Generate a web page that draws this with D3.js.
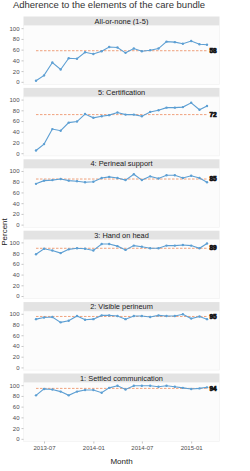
<!DOCTYPE html>
<html>
<head>
<meta charset="utf-8">
<script src="https://cdn.jsdelivr.net/npm/d3@7"></script>
<style>
  body { margin: 0; background: #fff; }
  svg { display: block; font-family: "Liberation Sans", Arial, sans-serif; }
  .tick text { fill: #4d4d4d; font-size: 6px; }
  .tick line { stroke: #8c8c8c; }
  .domain { display: none; }
</style>
</head>
<body>
<div id="chart"></div>
<script>
var width = 250, height = 471;

// months 2013-06 .. 2015-03
var months = ["2013-06","2013-07","2013-08","2013-09","2013-10","2013-11","2013-12",
  "2014-01","2014-02","2014-03","2014-04","2014-05","2014-06","2014-07","2014-08",
  "2014-09","2014-10","2014-11","2014-12","2015-01","2015-02","2015-03"];

var panels = ["All-or-none (1-5)", "5: Certification", "4: Perineal support",
  "3: Hand on head", "2: Visible perineum", "1: Settled communication"];

var allOrNone = [2, 12, 36, 23, 44, 43, 55, 52, 57, 65, 64, 54, 62, 57, 59, 62, 75, 74, 71, 76, 70, 69];
var certification = [5, 17, 45, 42, 57, 59, 73, 66, 69, 71, 76, 72, 72, 69, 77, 80, 85, 85, 86, 94, 81, 88];
var perineal = [76, 82, 83, 85, 82, 81, 79, 80, 87, 89, 87, 83, 94, 83, 90, 86, 92, 92, 87, 91, 87, 79];
var handOnHead = [78, 88, 85, 80, 87, 89, 88, 85, 97, 97, 93, 86, 94, 92, 89, 89, 94, 94, 95, 94, 89, 98];
var visible = [90, 93, 94, 84, 87, 96, 89, 90, 97, 97, 96, 90, 96, 96, 94, 97, 96, 96, 99, 91, 95, 90];
var settled = [81, 93, 92, 88, 81, 88, 91, 91, 86, 95, 99, 92, 99, 99, 99, 97, 99, 97, 95, 93, 94, 96];

var series = [allOrNone, certification, perineal, handOnHead, visible, settled];
var medians = [58, 72, 85, 89, 95, 94];

var xTicks = ["2013-07", "2014-01", "2014-07", "2015-01"];
var yTicks = [0, 20, 40, 60, 80, 100];

var parse = d3.timeParse("%Y-%m");

var svg = d3.select("#chart").append("svg")
  .attr("width", width)
  .attr("height", height);

var panelLeft = 23.5, panelRight = 219.5;
var stripTop = 16.5, stripH = 9, panelH = 59, pitch = 71.4;

// x scale: first / last month placed inside panel with padding
var x = d3.scaleTime()
  .domain([parse(months[0]), parse(months[months.length - 1])])
  .range([36, 207]);

// title
svg.append("text")
  .attr("x", 109).attr("y", 8)
  .attr("text-anchor", "middle")
  .attr("font-size", 9.5)
  .attr("fill", "#333")
  .text("Adherence to the elements of the care bundle");

panels.forEach(function(name, i) {
  var top = stripTop + i * pitch;
  var pTop = top + stripH;
  var y = d3.scaleLinear().domain([-5, 105]).range([pTop + panelH, pTop]);
  var g = svg.append("g");

  // strip
  g.append("rect")
    .attr("x", panelLeft).attr("y", top)
    .attr("width", panelRight - panelLeft).attr("height", stripH)
    .attr("fill", "#e3e3e3");
  g.append("text")
    .attr("x", (panelLeft + panelRight) / 2).attr("y", top + stripH / 2 + 2.6)
    .attr("text-anchor", "middle")
    .attr("font-size", 7.4)
    .attr("fill", "#1a1a1a")
    .text(name);

  // panel
  g.append("rect")
    .attr("x", panelLeft).attr("y", pTop)
    .attr("width", panelRight - panelLeft).attr("height", panelH)
    .attr("fill", "#fcfcfc")
    .attr("stroke", "#f0f0f0")
    .attr("stroke-width", 0.6);

  g.append("g")
    .attr("transform", "translate(" + panelLeft + ",0)")
    .call(d3.axisLeft(y).tickValues(yTicks).tickSize(2).tickPadding(2))
    .call(function(a) { a.selectAll(".tick line").attr("stroke-width", 0.5); });

  var data = series[i].map(function(v, j) { return {date: parse(months[j]), value: v}; });

  // median line
  g.append("line")
    .attr("x1", x(parse(months[0]))).attr("x2", x(parse(months[months.length - 1])))
    .attr("y1", y(medians[i])).attr("y2", y(medians[i]))
    .attr("stroke", "#ec8a5c")
    .attr("stroke-width", 0.8)
    .attr("stroke-dasharray", "2.5,1.5");

  g.append("path")
    .datum(data)
    .attr("fill", "none")
    .attr("stroke", "#5d9fd3")
    .attr("stroke-width", 1.1)
    .attr("d", d3.line().x(function(d) { return x(d.date); }).y(function(d) { return y(d.value); }));

  g.selectAll("circle")
    .data(data)
    .enter().append("circle")
    .attr("cx", function(d) { return x(d.date); })
    .attr("cy", function(d) { return y(d.value); })
    .attr("r", 1.2)
    .attr("fill", "#5d9fd3");

  // median label (overplotted text in the original looks heavy)
  g.append("text")
    .attr("x", 213).attr("y", y(medians[i]) + 2.2)
    .attr("text-anchor", "middle")
    .attr("font-size", 6.5)
    .attr("font-weight", "bold")
    .attr("fill", "#111")
    .attr("stroke", "#111")
    .attr("stroke-width", 0.7)
    .text(medians[i]);

  if (i === panels.length - 1) {
    g.append("g")
      .attr("transform", "translate(0," + (pTop + panelH) + ")")
      .call(d3.axisBottom(x).tickValues(xTicks.map(parse)).tickFormat(d3.timeFormat("%Y-%m")).tickSize(2).tickPadding(2))
      .call(function(a) { a.selectAll(".tick line").attr("stroke-width", 0.5); });
  }
});

svg.append("text")
  .attr("x", (panelLeft + panelRight) / 2).attr("y", 464)
  .attr("text-anchor", "middle")
  .attr("font-size", 8)
  .attr("fill", "#1a1a1a")
  .text("Month");

svg.append("text")
  .attr("transform", "translate(7,232) rotate(-90)")
  .attr("text-anchor", "middle")
  .attr("font-size", 8)
  .attr("fill", "#1a1a1a")
  .text("Percent");
</script>
</body>
</html>
